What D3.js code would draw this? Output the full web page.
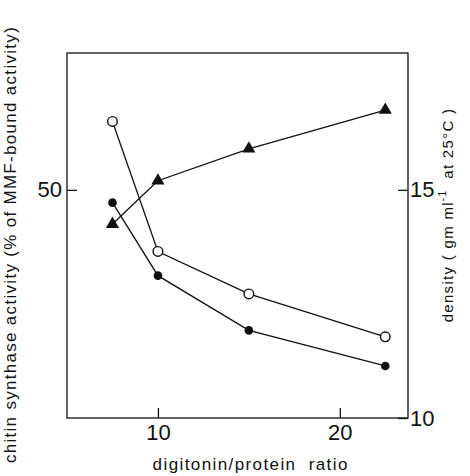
<!DOCTYPE html>
<html>
<head>
<meta charset="utf-8">
<script src="https://cdn.jsdelivr.net/npm/d3@7"></script>
<style>
  body { margin: 0; background: #fff; }
  text { font-family: "Liberation Sans", Arial, sans-serif; fill: #111; }
</style>
</head>
<body>
<div id="chart"></div>
<script>
// digitonin / protein ratio
const ratios = [7.5, 10, 15, 22.5];
// chitin synthase activity (% of MMF-bound activity)
const activityOpen = [65, 36.5, 27.2, 17.8];
const activityFilled = [47.2, 31.2, 19.2, 11.4];
// density (gm ml-1 at 25 C)
const density = [14.25, 15.2, 15.9, 16.75];

const xTicks = [10, 20];
const leftTicks = [50];
const rightTicks = [10, 15];

const W = 470, H = 476;
const margin = {top: 53, right: 62, bottom: 58, left: 67};
const width = W - margin.left - margin.right;
const height = H - margin.top - margin.bottom;

const svg = d3.select("#chart")
    .append("svg")
    .attr("width", W)
    .attr("height", H)
    .append("g")
    .attr("transform", `translate(${margin.left},${margin.top})`);

const x = d3.scaleLinear().domain([5, 23.75]).range([0, width]);
const yL = d3.scaleLinear().domain([0, 80]).range([height, 0]);
const yR = d3.scaleLinear().domain([10, 18]).range([height, 0]);

// frame
svg.append("rect")
    .attr("width", width)
    .attr("height", height)
    .attr("fill", "none")
    .attr("stroke", "#111")
    .attr("stroke-width", 1.3);

// axes, ticks pointing inward
const xAxis = d3.axisBottom(x).tickValues(xTicks).tickSize(-10).tickPadding(6).tickFormat(d3.format("d"));
const lAxis = d3.axisLeft(yL).tickValues(leftTicks).tickSize(-10).tickPadding(5);
const rAxis = d3.axisRight(yR).tickValues(rightTicks).tickSize(-10).tickPadding(2);

function styleAxis(g) {
    g.select(".domain").remove();
    g.selectAll(".tick line").attr("stroke", "#111").attr("stroke-width", 1.3);
    g.selectAll(".tick text").style("font-size", "22px").attr("fill", "#111");
}

svg.append("g").attr("transform", `translate(0,${height})`).call(xAxis).call(styleAxis);
svg.append("g").call(lAxis).call(styleAxis);
svg.append("g").attr("transform", `translate(${width},0)`).call(rAxis).call(styleAxis);

// lines
const lineL = d3.line().x((d, i) => x(ratios[i])).y(d => yL(d));
const lineR = d3.line().x((d, i) => x(ratios[i])).y(d => yR(d));

svg.append("path").datum(activityOpen).attr("d", lineL)
    .attr("fill", "none").attr("stroke", "#111").attr("stroke-width", 1.3);
svg.append("path").datum(activityFilled).attr("d", lineL)
    .attr("fill", "none").attr("stroke", "#111").attr("stroke-width", 1.3);
svg.append("path").datum(density).attr("d", lineR)
    .attr("fill", "none").attr("stroke", "#111").attr("stroke-width", 1.3);

// markers
svg.append("g").selectAll("circle")
    .data(activityOpen)
    .join("circle")
    .attr("cx", (d, i) => x(ratios[i]))
    .attr("cy", d => yL(d))
    .attr("r", 4.8)
    .attr("fill", "#fff")
    .attr("stroke", "#111")
    .attr("stroke-width", 1.4);

svg.append("g").selectAll("circle")
    .data(activityFilled)
    .join("circle")
    .attr("cx", (d, i) => x(ratios[i]))
    .attr("cy", d => yL(d))
    .attr("r", 4.3)
    .attr("fill", "#111");

const tri = d3.symbol().type(d3.symbolTriangle).size(75);
svg.append("g").selectAll("path")
    .data(density)
    .join("path")
    .attr("d", tri)
    .attr("transform", (d, i) => `translate(${x(ratios[i])},${yR(d)})`)
    .attr("fill", "#111");

// axis titles
svg.append("text")
    .attr("x", x(15.1))
    .attr("y", height + 52)
    .attr("text-anchor", "middle")
    .style("font-size", "17px")
    .style("letter-spacing", "1.4px")
    .attr("xml:space", "preserve")
    .text("digitonin/protein  ratio");

svg.append("text")
    .attr("transform", `translate(${-51},${height / 2 + 9}) rotate(-90)`)
    .attr("text-anchor", "middle")
    .style("font-size", "17px")
    .style("letter-spacing", "1.3px")
    .text("chitin synthase activity (% of MMF-bound activity)");

const rt = svg.append("text")
    .attr("transform", `translate(${width + 45},${215 - margin.top}) rotate(-90)`)
    .attr("text-anchor", "middle")
    .attr("xml:space", "preserve")
    .style("font-size", "15px")
    .style("letter-spacing", "1.3px");
rt.append("tspan").text("density ( gm ml");
rt.append("tspan").attr("dy", -7).style("font-size", "10px").text("-1");
rt.append("tspan").attr("dy", 7).text("  at 25°C )");
</script>
</body>
</html>
